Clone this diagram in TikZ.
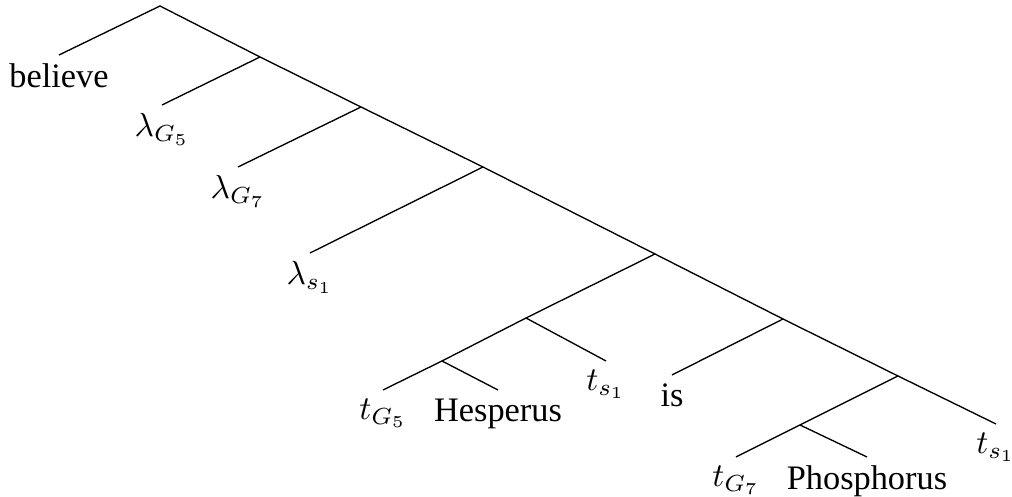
\documentclass[tikz,border=0pt]{standalone}
\usepackage{fontspec}
\setmainfont{Liberation Serif}
\usepackage{tikz}

\tikzset{leaf/.style={anchor=north,inner sep=2.4pt}}

\begin{document}
\begin{tikzpicture}[x=0.3pt,y=-0.3pt,font=\fontsize{10.3}{12}\selectfont]
            \useasboundingbox (0,0) rectangle (1012,497);

            % branching points
            \coordinate (root) at (160,6);
            \coordinate (a) at (260,57);
            \coordinate (b) at (361,107);
            \coordinate (c) at (483,167);
            \coordinate (d) at (655,254);
            \coordinate (e) at (526,318);
            \coordinate (f) at (442,361);
            \coordinate (g) at (783,319);
            \coordinate (h) at (898,376);
            \coordinate (i) at (800,425);

            % leaves
            \node[leaf] (believe) at (59,55) {believe};
            \node[leaf] (lamG5) at (162,105) {$\lambda_{G_5}$};
            \node[leaf] (lamG7) at (238,167) {$\lambda_{G_7}$};
            \node[leaf] (lams1) at (310,253) {$\lambda_{s_1}$};
            \node[leaf] (tG5) at (383,390) {$t_{G_5}$};
            \node[leaf] (hesp) at (498,390) {Hesperus};
            \node[leaf] (ts1a) at (606,361) {$t_{s_1}$};
            \node[leaf] (is) at (672,375) {is};
            \node[leaf] (tG7) at (736,457) {$t_{G_7}$};
            \node[leaf] (phos) at (867,457) {Phosphorus};
            \node[leaf] (ts1b) at (996,424) {$t_{s_1}$};

            \draw (believe.north) -- (root) -- (a) -- (b) -- (c) -- (d) -- (g) -- (h) -- (ts1b.north);
            \draw (a) -- (lamG5.north);
            \draw (b) -- (lamG7.north);
            \draw (c) -- (lams1.north);
            \draw (d) -- (e) -- (f) -- (tG5.north);
            \draw (f) -- (hesp.north);
            \draw (e) -- (ts1a.north);
            \draw (g) -- (is.north);
            \draw (h) -- (i) -- (tG7.north);
            \draw (i) -- (phos.north);
        \end{tikzpicture}
\end{document}
